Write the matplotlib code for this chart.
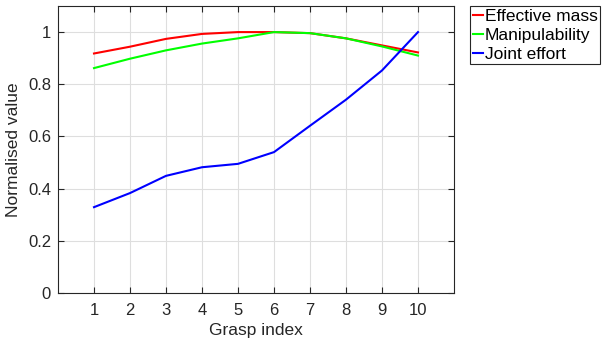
import numpy as np
import matplotlib.pyplot as plt

# Data
grasp = [1, 2, 3, 4, 5, 6, 7, 8, 9, 10]
effective_mass = [0.918, 0.944, 0.974, 0.993, 1.0, 1.0, 0.996, 0.976, 0.949, 0.922]
manipulability = [0.862, 0.898, 0.930, 0.956, 0.976, 1.0, 0.996, 0.976, 0.945, 0.910]
joint_effort = [0.329, 0.383, 0.449, 0.482, 0.495, 0.540, 0.641, 0.741, 0.853, 1.0]

plt.rcParams['font.family'] = 'Liberation Sans'

fig = plt.figure(figsize=(6.08, 3.43), dpi=100)
ax = fig.add_axes([58 / 608, 1 - 293 / 343, (454 - 58) / 608, (293 - 6) / 343])

ax.plot(grasp, effective_mass, color='#ff0000', lw=1.5, label='Effective mass')
ax.plot(grasp, manipulability, color='#00ff00', lw=1.5, label='Manipulability')
ax.plot(grasp, joint_effort, color='#0000ff', lw=1.5, label='Joint effort')

ax.set_xlim(0, 11)
ax.set_ylim(0, 1.1)
ax.set_xticks(grasp)
ax.set_yticks([0, 0.2, 0.4, 0.6, 0.8, 1])
ax.set_yticklabels(['0', '0.2', '0.4', '0.6', '0.8', '1'])
ax.grid(True, color='#dedede', lw=0.8)
ax.set_axisbelow(True)
ax.tick_params(direction='in', top=True, right=True, labelsize=12, colors='#262626', length=4)
ax.tick_params(axis='x', pad=7)
ax.tick_params(axis='y', pad=5)
for s in ax.spines.values():
    s.set_color('#262626')
    s.set_linewidth(0.8)

ax.set_xlabel('Grasp index', fontsize=12.5, color='#262626', labelpad=4)
ax.set_ylabel('Normalised value', fontsize=12.5, color='#262626', labelpad=5)

leg = fig.legend(loc='upper left', bbox_to_anchor=(470 / 608, 1 - 6 / 343), fontsize=12.5,
                 handlelength=0.6, handletextpad=0.1, borderpad=0.15, labelspacing=0.22,
                 borderaxespad=0, fancybox=False, framealpha=1)
leg.get_frame().set_edgecolor('#262626')
leg.get_frame().set_linewidth(0.8)

fig.savefig('out.png', dpi=100)
